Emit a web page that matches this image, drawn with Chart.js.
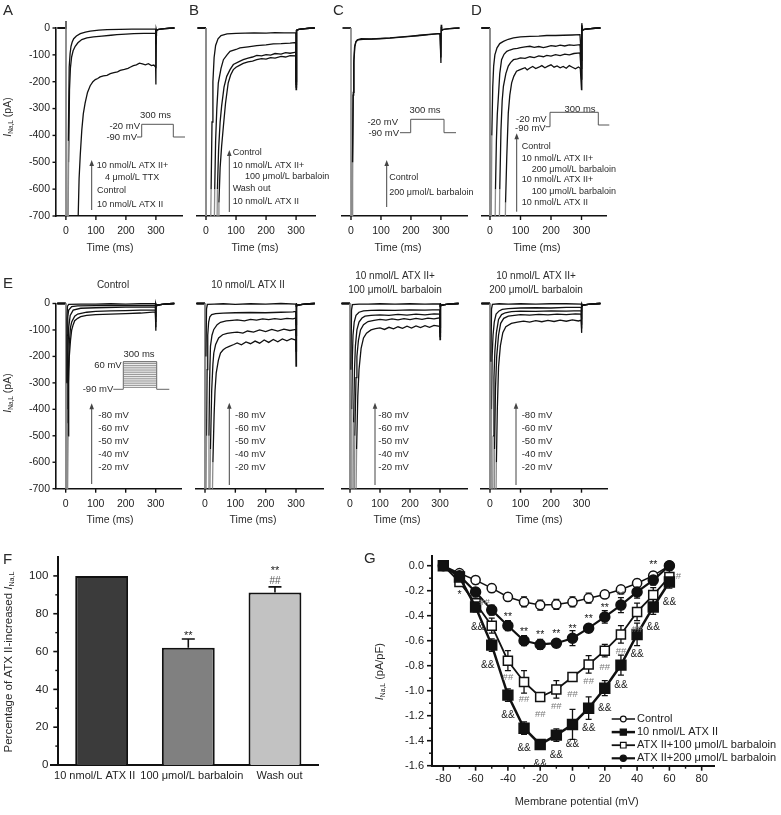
<!DOCTYPE html>
<html>
<head>
<meta charset="utf-8">
<script src="https://cdn.jsdelivr.net/npm/chart.js@4.4.0/dist/chart.umd.min.js"></script>
<style>
  html, body { margin: 0; padding: 0; background: #fff; }
  #wrap { position: relative; width: 781px; height: 815px; overflow: hidden; background: #fff; }
  canvas { position: absolute; left: 0; top: 0; }
</style>
</head>
<body>
<div id="wrap"></div>
<script>
// ---------- data (time in ms, current in pA) ----------
const T_TICKS = [0, 100, 200, 300];
const I_TICKS = [0, -100, -200, -300, -400, -500, -600, -700];

// holding baseline before the step and the tail after it
const PRE = [[-28, 0], [0, 0]];
const TAIL = [[302, -9], [306, -6], [315, -4], [330, -2], [345, -1], [362, 0]];

// A: ATX II+TTX, control, ATX II
const A_TTX = [[0.3, 25], [0.6, -2000], [5, -900], [8, -420], [11, -145], [14, -95], [17, -68], [21, -52], [26, -40], [35, -30], [48, -21], [65, -15], [81, -12], [110, -8], [137, -6], [180, -5], [220, -4], [260, -4], [299, -3], [300, -60], [301, -4]];
const A_CTRL = [[0.3, 25], [0.6, -2000], [6, -900], [9, -500], [12, -230], [15, -150], [19, -108], [24, -85], [31, -68], [40, -55], [53, -43], [70, -37], [92, -33], [120, -30], [150, -27], [170, -25], [200, -23], [226, -21], [260, -20], [299, -19], [300, -150], [301, -10]];
const A_ATX = [[0.3, 25], [0.6, -2000], [38, -900], [41, -700], [44, -560], [48, -470], [53, -380], [58, -320], [64, -280], [72, -240], [81, -215], [90, -200], [98, -192], [106, -188], [114, -182], [125, -178], [137, -176], [148, -170], [160, -166], [172, -163], [181, -158], [195, -154], [207, -150], [214, -146], [225, -140], [235, -137], [245, -131], [255, -134], [265, -137], [275, -133], [285, -140], [293, -138], [299, -145], [300, -210], [301, -15]];

// B: control, ATX II+barbaloin, wash out, ATX II
const B_CTRL = [[0.5, -2000], [14, -900], [17, -600], [20, -350], [23, -200], [27, -110], [32, -65], [40, -40], [50, -28], [70, -22], [100, -20], [130, -19], [160, -18], [200, -19], [230, -17], [260, -18], [299, -17], [300, -229], [301, -25]];
const B_BARB = [[0.5, -2000], [26, -900], [29, -600], [32, -420], [36, -300], [41, -204], [50, -150], [58, -118], [70, -100], [80, -87], [100, -80], [113, -74], [140, -70], [169, -66], [200, -63], [224, -59], [250, -58], [280, -56], [299, -54], [300, -200], [301, -20]];
const B_WASH = [[0.5, -2000], [35, -900], [38, -600], [42, -450], [47, -350], [52, -291], [60, -220], [69, -180], [80, -155], [91, -136], [110, -125], [124, -118], [140, -112], [155, -108], [169, -102], [185, -104], [200, -99], [215, -101], [230, -95], [250, -97], [265, -92], [280, -94], [299, -90], [300, -210], [301, -20]];
const B_ATX = [[0.5, -2000], [40, -900], [43, -650], [47, -520], [52, -440], [58, -365], [65, -280], [74, -204], [82, -175], [91, -155], [100, -146], [110, -140], [124, -132], [140, -126], [155, -123], [169, -118], [185, -114], [200, -116], [215, -110], [230, -112], [250, -106], [265, -108], [280, -103], [299, -104], [300, -220], [301, -20]];

// C: control, 200 umol/L barbaloin
const C_CTRL = [[0.5, -2000], [3, -900], [5, -500], [7, -250], [9, -130], [12, -70], [16, -52], [21, -44], [34, -40], [60, -41], [97, -40], [130, -38], [160, -35], [200, -31], [230, -28], [260, -25], [297, -21], [300, -130], [301, 12], [303, -2]];
const C_BARB = [[0.5, -2000], [3.5, -900], [5.5, -500], [7.5, -240], [10, -120], [13, -68], [17, -50], [24, -44], [40, -42], [70, -41], [100, -39], [130, -37], [160, -34], [200, -30], [230, -27], [260, -24], [297, -20], [300, -110], [301, 5], [303, -2]];

// D: control, ATX II+200, ATX II+100, ATX II
const D_CTRL = [[0.5, -2000], [3, -900], [6, -400], [9, -220], [12, -142], [16, -100], [23, -74], [32, -58], [44, -50], [60, -42], [77, -37], [100, -33], [131, -31], [160, -30], [186, -28], [215, -28], [240, -27], [270, -26], [295, -25], [300, -120], [301, 18], [303, -5]];
const D_200 = [[0.5, -2000], [15, -900], [18, -600], [21, -420], [24, -320], [27, -266], [32, -170], [38, -118], [46, -98], [55, -87], [65, -82], [77, -78], [90, -76], [100, -73], [115, -70], [131, -68], [145, -72], [160, -69], [175, -73], [186, -70], [200, -66], [215, -68], [230, -64], [245, -67], [260, -63], [275, -65], [295, -62], [300, -150], [301, 10]];
const D_100 = [[0.5, -2000], [29, -900], [32, -600], [36, -380], [40, -270], [44, -217], [52, -170], [60, -142], [68, -128], [77, -118], [90, -115], [100, -111], [115, -113], [131, -107], [145, -110], [160, -104], [175, -107], [186, -102], [200, -105], [215, -99], [230, -103], [245, -97], [260, -100], [275, -95], [295, -93], [300, -190], [301, 5]];
const D_ATX = [[0.5, -2000], [48, -900], [51, -650], [55, -480], [60, -316], [65, -250], [71, -204], [78, -180], [87, -161], [95, -157], [105, -152], [115, -148], [122, -156], [131, -149], [140, -143], [150, -151], [160, -146], [170, -140], [180, -148], [190, -142], [200, -137], [210, -146], [220, -141], [230, -148], [240, -143], [250, -150], [260, -140], [270, -146], [280, -152], [290, -145], [296, -150], [300, -229], [301, 0]];

// E: steps to -80, -60, -50, -40, -20 mV
const E_STEP_LABELS = ['-80 mV', '-60 mV', '-50 mV', '-40 mV', '-20 mV'];
const E_PROTOCOL_MV = [-80, -70, -60, -50, -40, -30, -20, -10, 0, 10, 20, 30, 40, 50, 60];

const E1_80 = [[0.5, -2000], [2, -900], [3, -300], [4, -60], [6, -10], [10, -3], [50, -2], [100, -2], [150, -1], [200, -2], [250, -1], [299, -1], [300, -20], [301, 0]];
const E1_60 = [[0.5, -2000], [2, -900], [3.5, -400], [5, -120], [7, -50], [10, -25], [20, -12], [40, -9], [100, -8], [200, -8], [299, -7], [300, -50], [301, -2]];
const E1_50 = [[0.5, -2000], [3, -900], [5, -450], [7, -200], [10, -90], [15, -45], [25, -25], [50, -18], [100, -16], [200, -14], [299, -13], [300, -70], [301, -4]];
const E1_40 = [[0.5, -2000], [4, -900], [6, -500], [9, -250], [12, -150], [16, -90], [20, -70], [30, -48], [40, -40], [70, -33], [100, -30], [150, -28], [200, -27], [250, -25], [299, -24], [300, -90], [301, -6]];
const E1_20 = [[0.5, -2000], [5, -900], [8, -500], [10, -300], [12, -200], [16, -140], [20, -100], [25, -80], [30, -65], [40, -56], [50, -50], [70, -45], [100, -42], [150, -40], [200, -38], [250, -36], [299, -32], [300, -103], [301, -10]];

const E2_80 = [[0.5, -2000], [2, -900], [3, -200], [5, -20], [8, -3], [30, -2], [60, -1], [100, -3], [150, -1], [200, -2], [250, 0], [299, -2], [300, -10], [301, 2]];
const E2_60 = [[0.5, -2000], [3, -900], [5, -500], [7, -250], [9, -120], [12, -70], [16, -50], [22, -42], [35, -38], [60, -36], [100, -35], [150, -34], [200, -35], [250, -33], [290, -32], [299, -30], [300, -80], [301, -5]];
const E2_50 = [[0.5, -2000], [10, -900], [13, -500], [15, -300], [18, -161], [23, -120], [29, -98], [40, -80], [51, -71], [70, -66], [90, -64], [106, -62], [130, -66], [150, -60], [170, -63], [190, -58], [210, -61], [230, -57], [250, -60], [270, -56], [290, -58], [299, -55], [300, -120], [301, -8]];
const E2_40 = [[0.5, -2000], [14, -900], [18, -550], [22, -330], [26, -230], [29, -187], [35, -155], [45, -130], [58, -118], [73, -113], [90, -110], [106, -108], [125, -112], [140, -104], [160, -108], [180, -100], [200, -106], [220, -98], [240, -104], [260, -97], [280, -102], [299, -98], [300, -180], [301, -10]];
const E2_20 = [[0.5, -2000], [22, -900], [26, -600], [30, -420], [33, -330], [37, -262], [44, -215], [51, -187], [60, -175], [68, -168], [80, -162], [95, -155], [106, -149], [120, -156], [135, -145], [150, -152], [165, -142], [180, -150], [195, -138], [210, -147], [225, -136], [240, -145], [255, -134], [270, -141], [285, -133], [299, -138], [300, -237], [301, -12]];

const E3_80 = [[0.5, -2000], [2, -900], [3, -250], [5, -25], [8, -4], [30, -2], [60, -2], [100, -1], [150, -2], [200, -1], [250, -2], [299, -1], [300, -12], [301, 2]];
const E3_60 = [[0.5, -2000], [4, -900], [6, -400], [8, -200], [10, -120], [14, -70], [20, -45], [30, -33], [45, -28], [70, -26], [100, -25], [150, -26], [200, -24], [250, -25], [299, -23], [300, -90], [301, -5]];
const E3_50 = [[0.5, -2000], [9, -900], [12, -450], [15, -250], [18, -160], [23, -100], [30, -70], [40, -55], [50, -48], [70, -45], [100, -43], [130, -45], [160, -41], [190, -44], [220, -40], [250, -43], [280, -39], [299, -40], [300, -110], [301, -6]];
const E3_40 = [[0.5, -2000], [13, -900], [16, -500], [20, -280], [23, -200], [28, -140], [35, -100], [45, -80], [60, -68], [80, -64], [100, -60], [120, -63], [140, -58], [160, -62], [180, -57], [200, -61], [220, -56], [240, -60], [260, -55], [280, -58], [299, -54], [300, -125], [301, -8]];
const E3_20 = [[0.5, -2000], [18, -900], [22, -550], [26, -350], [30, -250], [37, -170], [45, -130], [55, -112], [70, -100], [85, -95], [100, -92], [115, -98], [130, -90], [145, -96], [160, -88], [175, -94], [190, -86], [205, -93], [220, -85], [235, -91], [250, -84], [265, -90], [280, -83], [299, -86], [300, -136], [301, -10]];

const E4_80 = [[0.5, -2000], [2, -900], [3, -220], [5, -20], [8, -3], [30, -1], [60, -2], [100, -1], [150, -2], [200, -1], [250, -1], [299, -2], [300, -10], [301, 2]];
const E4_60 = [[0.5, -2000], [3, -900], [5, -400], [7, -200], [10, -120], [14, -70], [20, -40], [30, -28], [40, -22], [60, -19], [100, -17], [150, -16], [200, -17], [250, -15], [299, -15], [300, -60], [301, -4]];
const E4_50 = [[0.5, -2000], [8, -900], [10, -500], [13, -280], [16, -180], [21, -110], [28, -60], [38, -42], [50, -35], [70, -31], [100, -29], [150, -30], [200, -28], [250, -29], [299, -27], [300, -80], [301, -5]];
const E4_40 = [[0.5, -2000], [13, -900], [15, -550], [18, -320], [22, -200], [28, -120], [35, -75], [45, -56], [60, -48], [80, -45], [100, -42], [130, -44], [160, -41], [190, -43], [220, -40], [250, -42], [280, -39], [299, -40], [300, -95], [301, -6]];
const E4_20 = [[0.5, -2000], [18, -900], [21, -600], [24, -400], [28, -240], [34, -160], [42, -110], [52, -88], [70, -75], [90, -70], [110, -67], [130, -70], [150, -65], [170, -69], [190, -64], [210, -68], [230, -63], [250, -67], [270, -62], [290, -66], [299, -63], [300, -111], [301, -8]];

// F: % of ATX II-increased INa,L
const F_CATS = ['10 nmol/L ATX II', '100 μmol/L barbaloin', 'Wash out'];
const F_VALS = [100, 62, 91.2];
const F_ERR = [0, 4.6, 3.0];
const F_SIG = [[], ['**'], ['##', '**']];
const F_YT = [0, 20, 40, 60, 80, 100];
const F_YMINOR = [10, 30, 50, 70, 90];

// G: I-V relationship (pA/pF)
const VOLT = [-80, -70, -60, -50, -40, -30, -20, -10, 0, 10, 20, 30, 40, 50, 60];
const G_CTRL = [0, -0.06, -0.115, -0.18, -0.25, -0.29, -0.315, -0.31, -0.29, -0.26, -0.23, -0.19, -0.14, -0.08, 0];
const G_ATX = [0, -0.09, -0.33, -0.635, -1.035, -1.30, -1.43, -1.355, -1.27, -1.14, -0.98, -0.795, -0.55, -0.33, -0.13];
const G_B100 = [0, -0.13, -0.30, -0.48, -0.76, -0.93, -1.05, -0.99, -0.89, -0.79, -0.68, -0.55, -0.37, -0.235, -0.09];
const G_B200 = [0, -0.08, -0.21, -0.355, -0.48, -0.60, -0.63, -0.62, -0.58, -0.50, -0.41, -0.315, -0.21, -0.115, 0];
const G_CTRL_ERR = [0, 0.02, 0.03, 0.03, 0.03, 0.04, 0.04, 0.04, 0.04, 0.04, 0.03, 0.03, 0.03, 0.03, 0];
const G_ATX_ERR = [0, 0.03, 0.04, 0.05, 0.05, 0.05, 0.03, 0.05, 0.12, 0.09, 0.06, 0.08, 0.09, 0.06, 0.05];
const G_B100_ERR = [0, 0.03, 0.04, 0.06, 0.08, 0.09, 0.03, 0.07, 0.03, 0.07, 0.05, 0.07, 0.07, 0.06, 0.05];
const G_B200_ERR = [0, 0.02, 0.03, 0.04, 0.04, 0.04, 0.04, 0.03, 0.06, 0.03, 0.05, 0.06, 0.05, 0.04, 0.03];
const G_STAR = ['', '*', '', '', '**', '**', '**', '**', '**', '**', '**', '**', '', '**', ''];
const G_HASH = ['', '', '##', '', '##', '##', '##', '##', '##', '##', '##', '##', '##', '', '#'];
const G_AMP = ['', '', '&&', '&&', '&&', '&&', '&&', '&&', '&&', '&&', '&&', '&&', '&&', '&&', '&&'];
const G_XT = [-80, -60, -40, -20, 0, 20, 40, 60, 80];
const G_XMINOR = [-70, -50, -30, -10, 10, 30, 50, 70];
const G_YT = [0, -0.2, -0.4, -0.6, -0.8, -1.0, -1.2, -1.4, -1.6];
const G_YMINOR = [-0.1, -0.3, -0.5, -0.7, -0.9, -1.1, -1.3, -1.5];

// ---------- drawing ----------
const FONT = "'Liberation Sans', Arial, Helvetica, sans-serif";
Chart.defaults.font.family = FONT;
Chart.defaults.color = '#222';

const W = 781, H = 815;
const wrap = document.getElementById('wrap');
const DECO = {};
const INAL_PA = [['I', 'i'], ['Na,L', 's'], [' (pA)', 'n']];

function txt(ctx, s, x, y, size, align, color, style) {
  ctx.font = (style ? style + ' ' : '') + size + 'px ' + FONT;
  ctx.fillStyle = color || '#2a2a2a';
  ctx.textAlign = align || 'left';
  ctx.textBaseline = 'middle';
  ctx.fillText(s, x, y);
}

function rich(ctx, r) {
  ctx.save();
  ctx.translate(r.x, r.y);
  if (r.rot) ctx.rotate(-Math.PI / 2);
  const f = st => st === 'i' ? 'italic ' + r.size + 'px ' + FONT
    : st === 's' ? (r.size * 0.62).toFixed(1) + 'px ' + FONT : r.size + 'px ' + FONT;
  let total = 0;
  r.segs.forEach(([t, st]) => { ctx.font = f(st); total += ctx.measureText(t).width; });
  let x = -total / 2;
  ctx.textAlign = 'left';
  ctx.textBaseline = 'middle';
  ctx.fillStyle = '#2a2a2a';
  r.segs.forEach(([t, st]) => {
    ctx.font = f(st);
    ctx.fillText(t, x, st === 's' ? r.size * 0.3 : 0);
    x += ctx.measureText(t).width;
  });
  ctx.restore();
}

function arrow(ctx, x, y1, y2) {
  ctx.strokeStyle = '#444';
  ctx.fillStyle = '#444';
  ctx.lineWidth = 1;
  ctx.beginPath(); ctx.moveTo(x, y1); ctx.lineTo(x, y2 + 4); ctx.stroke();
  ctx.beginPath(); ctx.moveTo(x, y2); ctx.lineTo(x - 2.3, y2 + 6); ctx.lineTo(x + 2.3, y2 + 6); ctx.closePath(); ctx.fill();
}

Chart.register({
  id: 'deco',
  beforeDatasetsDraw(chart) { const d = DECO[chart.canvas.id]; if (d && d.before) d.before(chart); },
  afterDatasetsDraw(chart) { const d = DECO[chart.canvas.id]; if (d && d.after) d.after(chart); },
  afterDraw(chart) {
    const d = DECO[chart.canvas.id];
    if (!d) return;
    const ctx = chart.ctx;
    ctx.save();
    (d.ticks || []).forEach(tk => {
      const s = chart.scales[tk.axis];
      ctx.strokeStyle = '#111';
      ctx.lineWidth = tk.w || 1.4;
      tk.vals.forEach(v => {
        const p = s.getPixelForValue(v);
        ctx.beginPath();
        if (tk.axis === 'x') { ctx.moveTo(p, s.top); ctx.lineTo(p, s.top + tk.len); }
        else { ctx.moveTo(s.right - tk.len, p); ctx.lineTo(s.right, p); }
        ctx.stroke();
      });
    });
    (d.polys || []).forEach(pl => {
      ctx.strokeStyle = pl.c || '#555';
      ctx.lineWidth = pl.w || 1;
      ctx.beginPath();
      pl.pts.forEach(([x, y], i) => i ? ctx.lineTo(x, y) : ctx.moveTo(x, y));
      ctx.stroke();
    });
    (d.arrows || []).forEach(a => arrow(ctx, a[0], a[1], a[2]));
    (d.texts || []).forEach(t => txt(ctx, t[0], t[1], t[2], t[3] || 9, t[4], t[5]));
    (d.rich || []).forEach(r => rich(ctx, r));
    ctx.restore();
  }
});

function mkCanvas(id) {
  const c = document.createElement('canvas');
  c.id = id;
  c.width = W; c.height = H;
  c.style.width = W + 'px'; c.style.height = H + 'px';
  wrap.appendChild(c);
  return c;
}

function place(area, yW, xH) {
  return { left: area.l - yW, top: area.t, right: W - area.r, bottom: H - area.b - xH };
}

const BASE_OPTS = { responsive: false, animation: false, events: [] };
const NO_PLUG = { legend: { display: false }, tooltip: { enabled: false } };

function traceChart(id, area, xr, traces, showY, deco) {
  const yW = showY ? 40 : 0, xH = 30;
  const cv = mkCanvas(id);
  deco.ticks = [{ axis: 'x', vals: T_TICKS, len: 4 }].concat(showY ? [{ axis: 'y', vals: I_TICKS, len: 3.5 }] : []);
  DECO[id] = deco;
  return new Chart(cv, {
    type: 'line',
    data: {
      datasets: traces.map(tr => ({
        data: PRE.concat(tr, TAIL).map(([x, y]) => ({ x, y })),
        borderColor: '#111', borderWidth: 1.3, pointRadius: 0, tension: 0, fill: false,
        clip: { left: 10, top: 14, right: 20, bottom: 0 },
        segment: { borderColor: c => (c.p0.parsed.y < -700 || c.p1.parsed.y < -700) ? '#8c8c8c' : undefined }
      }))
    },
    options: Object.assign({}, BASE_OPTS, {
      layout: { padding: place(area, yW, xH), autoPadding: false },
      plugins: NO_PLUG,
      scales: {
        x: {
          type: 'linear', min: xr[0], max: xr[1],
          afterFit: s => { s.height = xH; },
          afterBuildTicks: s => { s.ticks = T_TICKS.map(v => ({ value: v })); },
          grid: { display: false, drawTicks: false },
          border: { display: true, color: '#111', width: 1.6 },
          ticks: { padding: 9, font: { size: 10.5 }, color: '#222', maxRotation: 0, autoSkip: false }
        },
        y: {
          type: 'linear', min: -700, max: 0, display: showY,
          afterFit: s => { s.width = yW; },
          afterBuildTicks: s => { s.ticks = I_TICKS.map(v => ({ value: v })); },
          grid: { display: false, drawTicks: false },
          border: { display: true, color: '#111', width: 1.6 },
          ticks: { padding: 6, font: { size: 10.5 }, color: '#222', autoSkip: false }
        }
      }
    })
  });
}

function stepTexts(x, ys) {
  return E_STEP_LABELS.map((s, i) => [s, x, ys[i], 9.5]);
}
const E_LBL_Y = [415, 428, 441, 454, 467];

// ---- A ----
traceChart('cA', { l: 56, t: 28, r: 182, b: 216 }, [-33, 387], [A_TTX, A_CTRL, A_ATX], true, {
  texts: [
    ['A', 3, 11, 15], ['Time (ms)', 110, 248, 10.5, 'center'],
    ['300 ms', 155.5, 115, 9.5, 'center'], ['-20 mV', 140, 126, 9.5, 'right'], ['-90 mV', 137, 137, 9.5, 'right'],
    ['10 nmol/L ATX II+', 96.7, 165.7], ['4 μmol/L TTX', 105, 178], ['Control', 97, 191], ['10 nmol/L ATX II', 97, 205]
  ],
  rich: [{ x: 8.5, y: 117, size: 10.5, rot: true, segs: INAL_PA }],
  polys: [{ pts: [[137, 137], [141.7, 137], [141.7, 124.3], [173.3, 124.3], [173.3, 137], [185, 137]] }],
  arrows: [[91.7, 210, 160]]
});

// ---- B ----
traceChart('cB', { l: 197, t: 28, r: 315, b: 216 }, [-30, 363], [B_CTRL, B_BARB, B_WASH, B_ATX], false, {
  texts: [
    ['B', 189, 11, 15], ['Time (ms)', 255, 248, 10.5, 'center'],
    ['Control', 232.7, 153], ['10 nmol/L ATX II+', 232.7, 166], ['100 μmol/L barbaloin', 245, 177],
    ['Wash out', 232.7, 189], ['10 nmol/L ATX II', 232.7, 202]
  ],
  arrows: [[229.3, 212, 150]]
});

// ---- C ----
traceChart('cC', { l: 342, t: 28, r: 467, b: 216 }, [-30, 387], [C_CTRL, C_BARB], false, {
  texts: [
    ['C', 333, 11, 15], ['Time (ms)', 398, 248, 10.5, 'center'],
    ['300 ms', 425, 110, 9.5, 'center'], ['-20 mV', 398, 122, 9.5, 'right'], ['-90 mV', 399, 133, 9.5, 'right'],
    ['Control', 389.3, 178], ['200 μmol/L barbaloin', 389.3, 193]
  ],
  polys: [{ pts: [[400, 132.7], [410.7, 132.7], [410.7, 119.3], [444, 119.3], [444, 132.7], [456, 132.7]] }],
  arrows: [[386.7, 207, 160]]
});

// ---- D ----
traceChart('cD', { l: 482, t: 28, r: 606, b: 216 }, [-26.2, 380.3], [D_CTRL, D_200, D_100, D_ATX], false, {
  texts: [
    ['D', 471, 11, 15], ['Time (ms)', 537, 248, 10.5, 'center'],
    ['300 ms', 580, 109.3, 9.5, 'center'], ['-20 mV', 546.7, 119.5, 9.5, 'right'], ['-90 mV', 545.7, 128.5, 9.5, 'right'],
    ['Control', 521.7, 146.7], ['10 nmol/L ATX II+', 521.7, 158.3], ['200 μmol/L barbaloin', 531.7, 169.3],
    ['10 nmol/L ATX II+', 521.7, 180], ['100 μmol/L barbaloin', 531.7, 191.7], ['10 nmol/L ATX II', 521.7, 202.3]
  ],
  polys: [{ pts: [[545.7, 126.7], [550, 126.7], [550, 112.3], [598.3, 112.3], [598.3, 125], [609.3, 125]] }],
  arrows: [[516.7, 211.7, 133.3]]
});

// ---- E (four step families) ----
const eInset = [
  { pts: [[113.3, 389.3], [123.3, 389.3], [123.3, 361.7], [156.7, 361.7], [156.7, 389.3], [169.3, 389.3]], c: '#666', w: 1 }
].concat(E_PROTOCOL_MV.map(v => {
  const y = 389.3 - (v + 90) / 150 * 27.6;
  return { pts: [[123.3, y], [156.7, y]], c: '#777', w: 0.8 };
}));

traceChart('cE1', { l: 56, t: 303.5, r: 181.7, b: 488.7 }, [-32.3, 386.7], [E1_80, E1_60, E1_50, E1_40, E1_20], true, {
  texts: [
    ['E', 3, 284, 15], ['Control', 113, 285, 10, 'center'], ['Time (ms)', 110, 520, 10.5, 'center'],
    ['300 ms', 139, 354, 9.5, 'center'], ['60 mV', 121.7, 365, 9.5, 'right'], ['-90 mV', 113.3, 389.3, 9.5, 'right']
  ].concat(stepTexts(98.3, E_LBL_Y)),
  rich: [{ x: 8.5, y: 393, size: 10.5, rot: true, segs: INAL_PA }],
  polys: eInset,
  arrows: [[91.7, 484, 403.3]]
});

traceChart('cE2', { l: 196, t: 303.5, r: 323, b: 488.7 }, [-29.7, 389], [E2_80, E2_60, E2_50, E2_40, E2_20], false, {
  texts: [['10 nmol/L ATX II', 248, 285, 10, 'center'], ['Time (ms)', 253, 520, 10.5, 'center']].concat(stepTexts(235, E_LBL_Y)),
  arrows: [[229.3, 485, 402.7]]
});

traceChart('cE3', { l: 342, t: 303.5, r: 467, b: 488.7 }, [-26.7, 390], [E3_80, E3_60, E3_50, E3_40, E3_20], false, {
  texts: [
    ['10 nmol/L ATX II+', 395, 276, 10, 'center'], ['100 μmol/L barbaloin', 395, 290, 10, 'center'],
    ['Time (ms)', 397, 520, 10.5, 'center']
  ].concat(stepTexts(378.3, E_LBL_Y)),
  arrows: [[375, 485, 402.7]]
});

traceChart('cE4', { l: 481, t: 303.5, r: 607, b: 488.7 }, [-29.5, 383.6], [E4_80, E4_60, E4_50, E4_40, E4_20], false, {
  texts: [
    ['10 nmol/L ATX II+', 536, 276, 10, 'center'], ['200 μmol/L barbaloin', 536, 290, 10, 'center'],
    ['Time (ms)', 539, 520, 10.5, 'center']
  ].concat(stepTexts(521.7, E_LBL_Y)),
  arrows: [[516, 485, 402.7]]
});

// ---- F: bar chart ----
(function () {
  const id = 'cF', area = { l: 58.3, t: 557, r: 318.3, b: 765 }, yW = 50, xH = 25;
  const labelShift = [-7, 3.5, 4.5];
  const cv = mkCanvas(id);
  DECO[id] = {
    texts: [['F', 3, 560, 15]],
    rich: [{ x: 8.5, y: 662, size: 11.5, rot: true, segs: [['Percentage of ATX II-increased ', 'n'], ['I', 'i'], ['Na,L', 's']] }],
    polys: [{ pts: [[50, 765], [58.3, 765]], c: '#111', w: 2 }],
    ticks: [{ axis: 'y', vals: F_YT, len: 5, w: 1.6 }, { axis: 'y', vals: F_YMINOR, len: 3, w: 1.4 }],
    after(chart) {
      const ctx = chart.ctx, xs = chart.scales.x, ys = chart.scales.y;
      ctx.save();
      ctx.strokeStyle = '#111'; ctx.lineWidth = 1.6;
      F_VALS.forEach((v, i) => {
        const x = xs.getPixelForValue(i);
        if (F_ERR[i]) {
          const y0 = ys.getPixelForValue(v), y1 = ys.getPixelForValue(v + F_ERR[i]);
          ctx.beginPath(); ctx.moveTo(x, y0); ctx.lineTo(x, y1);
          ctx.moveTo(x - 6.5, y1); ctx.lineTo(x + 6.5, y1); ctx.stroke();
        }
        const top = ys.getPixelForValue(v + F_ERR[i]);
        F_SIG[i].forEach((s, k) => {
          const yy = top - 6 - k * 13;
          if (s === '##') txt(ctx, s, x, yy, 10, 'center', '#555');
          else txt(ctx, s, x, yy + 3, 11, 'center', '#222');
        });
        // category label under the axis
        txt(ctx, F_CATS[i], x + labelShift[i], ys.bottom + 10.5, 11, 'center', '#222');
      });
      ctx.restore();
    }
  };
  new Chart(cv, {
    type: 'bar',
    data: {
      labels: F_CATS,
      datasets: [{
        data: F_VALS,
        backgroundColor: ['#3b3b3b', '#808080', '#c2c2c2'],
        borderColor: '#111', borderWidth: 2,
        barPercentage: 0.61, categoryPercentage: 1
      }]
    },
    options: Object.assign({}, BASE_OPTS, {
      layout: { padding: place(area, yW, xH), autoPadding: false },
      plugins: NO_PLUG,
      scales: {
        x: {
          afterFit: s => { s.height = xH; },
          grid: { display: false, drawTicks: false },
          border: { display: true, color: '#111', width: 2 },
          ticks: { display: false }
        },
        y: {
          min: 0, max: 110,
          afterFit: s => { s.width = yW; },
          afterBuildTicks: s => { s.ticks = F_YT.map(v => ({ value: v })); },
          grid: { display: false, drawTicks: false },
          border: { display: true, color: '#111', width: 2 },
          ticks: { padding: 10, font: { size: 11.5 }, color: '#222', autoSkip: false }
        }
      }
    })
  });
})();

// ---- G: I-V curves ----
(function () {
  const id = 'cG', area = { l: 432, t: 555.7, r: 714.6, b: 765.7 }, yW = 40, xH = 25;
  const cv = mkCanvas(id);
  const series = [
    { label: 'Control', vals: G_CTRL, err: G_CTRL_ERR, ps: 'circle', r: 4.6, fill: '#fff', lw: 1.5, order: 2 },
    { label: '10 nmol/L ATX II', vals: G_ATX, err: G_ATX_ERR, ps: 'rect', r: 7, fill: '#111', lw: 2.5, order: 0 },
    { label: 'ATX II+100 μmol/L barbaloin', vals: G_B100, err: G_B100_ERR, ps: 'rect', r: 6.4, fill: '#fff', lw: 1.8, order: 3 },
    { label: 'ATX II+200 μmol/L barbaloin', vals: G_B200, err: G_B200_ERR, ps: 'circle', r: 5, fill: '#111', lw: 2.2, order: 1 }
  ];
  DECO[id] = {
    texts: [['G', 364, 559, 15], ['Membrane potential (mV)', 576.7, 801.7, 11, 'center']],
    rich: [{ x: 380, y: 671.7, size: 11, rot: true, segs: [['I', 'i'], ['Na,L', 's'], [' (pA/pF)', 'n']] }],
    ticks: [
      { axis: 'x', vals: G_XT, len: 5, w: 1.6 }, { axis: 'x', vals: G_XMINOR, len: 3, w: 1.4 },
      { axis: 'y', vals: G_YT, len: 5, w: 1.6 }, { axis: 'y', vals: G_YMINOR, len: 3, w: 1.4 }
    ],
    before(chart) {
      const ctx = chart.ctx, xs = chart.scales.x, ys = chart.scales.y;
      ctx.save(); ctx.strokeStyle = '#111'; ctx.lineWidth = 1.3;
      series.forEach(s => s.vals.forEach((v, i) => {
        const e = s.err[i];
        if (!e) return;
        const x = xs.getPixelForValue(VOLT[i]);
        const y1 = ys.getPixelForValue(v - e), y2 = ys.getPixelForValue(v + e);
        ctx.beginPath();
        ctx.moveTo(x, y1); ctx.lineTo(x, y2);
        ctx.moveTo(x - 3, y1); ctx.lineTo(x + 3, y1);
        ctx.moveTo(x - 3, y2); ctx.lineTo(x + 3, y2);
        ctx.stroke();
      }));
      ctx.restore();
    },
    after(chart) {
      const ctx = chart.ctx, xs = chart.scales.x, ys = chart.scales.y;
      ctx.save();
      VOLT.forEach((v, i) => {
        const x = xs.getPixelForValue(v);
        if (G_STAR[i]) {
          let dy = -9;
          if (v === -70) dy = 19;
          if (v === 50) dy = -15;
          txt(ctx, G_STAR[i], x, ys.getPixelForValue(G_B200[i]) + dy, 10.5, 'center', '#222');
        }
        if (G_HASH[i]) {
          let dx = 0, dy = 17;
          if (v === -60 || v === 60) { dx = 9; dy = -1; }
          txt(ctx, G_HASH[i], x + dx, ys.getPixelForValue(G_B100[i]) + dy, 9.5, 'center', '#7a7a7a');
        }
        if (G_AMP[i]) {
          let dx = 0, dy = 20;
          if (v === -60) dx = 2;
          if (v === -50) dx = -4;
          txt(ctx, G_AMP[i], x + dx, ys.getPixelForValue(G_ATX[i]) + dy, 10, 'center', '#222');
        }
      });
      // legend
      series.forEach((s, k) => {
        const y = 719 + k * 13.1;
        ctx.strokeStyle = '#111'; ctx.lineWidth = s.lw;
        ctx.beginPath(); ctx.moveTo(611.7, y); ctx.lineTo(635, y); ctx.stroke();
        ctx.fillStyle = s.fill; ctx.strokeStyle = '#111'; ctx.lineWidth = 1.2;
        Chart.helpers.drawPoint(ctx, { pointStyle: s.ps, radius: s.r * 0.62, borderWidth: 1.2 }, 623.3, y);
        txt(ctx, s.label, 637, y, 11, 'left', '#222');
      });
      ctx.restore();
    }
  };
  new Chart(cv, {
    type: 'line',
    data: {
      datasets: series.map(s => ({
        data: s.vals.map((v, i) => ({ x: VOLT[i], y: v })),
        borderColor: '#111', borderWidth: s.lw,
        pointStyle: s.ps, pointRadius: s.r, pointBackgroundColor: s.fill,
        pointBorderColor: '#111', pointBorderWidth: 1.5,
        order: s.order, clip: false, tension: 0
      }))
    },
    options: Object.assign({}, BASE_OPTS, {
      layout: { padding: place(area, yW, xH), autoPadding: false },
      plugins: NO_PLUG,
      scales: {
        x: {
          type: 'linear', min: -87, max: 88,
          afterFit: s => { s.height = xH; },
          afterBuildTicks: s => { s.ticks = G_XT.map(v => ({ value: v })); },
          grid: { display: false, drawTicks: false },
          border: { display: true, color: '#111', width: 2 },
          ticks: { padding: 7, font: { size: 11 }, color: '#222', maxRotation: 0, autoSkip: false }
        },
        y: {
          type: 'linear', min: -1.6, max: 0.08,
          afterFit: s => { s.width = yW; },
          afterBuildTicks: s => { s.ticks = G_YT.map(v => ({ value: v })); },
          grid: { display: false, drawTicks: false },
          border: { display: true, color: '#111', width: 2 },
          ticks: { padding: 8, font: { size: 11 }, color: '#222', autoSkip: false, callback: v => v.toFixed(1) }
        }
      }
    })
  });
})();
</script>
</body>
</html>
